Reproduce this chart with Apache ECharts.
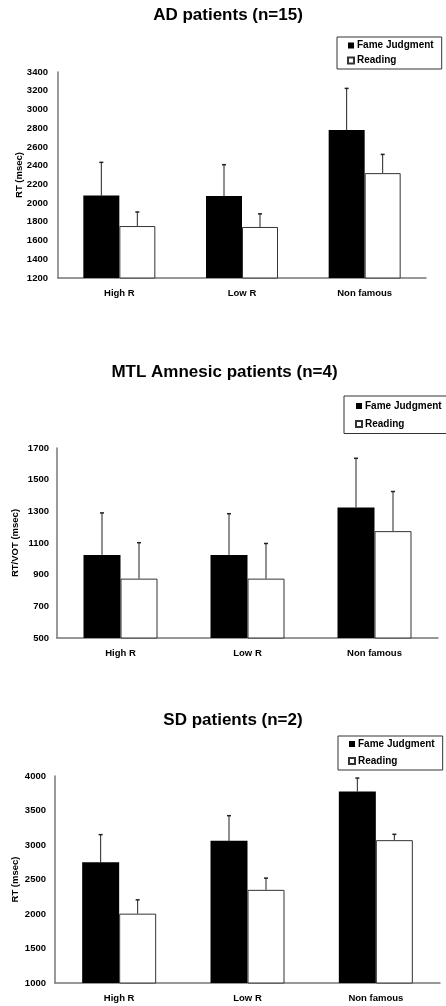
<!DOCTYPE html>
<html>
<head>
<meta charset="utf-8">
<script src="https://cdn.jsdelivr.net/npm/echarts@6/dist/echarts.min.js"></script>
<style>
html,body{margin:0;padding:0;background:#fff;}
#chart{width:446px;height:1006px;}
</style>
</head>
<body>
<div id="chart"></div>
<script>
// ---- data ----
const categories = ['High R', 'Low R', 'Non famous'];
const seriesNames = ['Fame Judgment', 'Reading'];

const adTitle = 'AD patients (n=15)';
const adYName = 'RT (msec)';
const adTicks = [1200, 1400, 1600, 1800, 2000, 2200, 2400, 2600, 2800, 3000, 3200, 3400];
const adFame = [2080, 2075, 2780];
const adFameErr = [2435, 2410, 3225];
const adRead = [1755, 1745, 2320];
const adReadErr = [1905, 1885, 2520];

const mtlTitle = 'MTL Amnesic patients (n=4)';
const mtlYName = 'RT/VOT (msec)';
const mtlTicks = [500, 700, 900, 1100, 1300, 1500, 1700];
const mtlFame = [1025, 1025, 1325];
const mtlFameErr = [1290, 1285, 1635];
const mtlRead = [875, 875, 1175];
const mtlReadErr = [1102, 1097, 1425];

const sdTitle = 'SD patients (n=2)';
const sdYName = 'RT (msec)';
const sdTicks = [1000, 1500, 2000, 2500, 3000, 3500, 4000];
const sdFame = [2750, 3060, 3775];
const sdFameErr = [3150, 3425, 3970];
const sdRead = [2005, 2350, 3070];
const sdReadErr = [2205, 2520, 3155];

// ---- styles ----
const FONT = '"Liberation Sans", Arial, Helvetica, sans-serif';
const panels = [
  {title: adTitle, yName: adYName, ticks: adTicks, fame: adFame, fameErr: adFameErr, read: adRead, readErr: adReadErr,
   grid: {left: 58, right: 20, top: 72, height: 206}, titleX: 228, titleTop: 6.5, nameGap: 34, labelMargin: 10,
   barW: 36, legend: {left: 337, top: 37, itemGap: 4, padding: [3, 8, 3, 10]}, step: 200},
  {title: mtlTitle, yName: mtlYName, ticks: mtlTicks, fame: mtlFame, fameErr: mtlFameErr, read: mtlRead, readErr: mtlReadErr,
   grid: {left: 57, right: 8, top: 448, height: 190}, titleX: 224.5, titleTop: 363.5, nameGap: 37, labelMargin: 8,
   barW: 37, legend: {left: 344, top: 396, itemGap: 7, padding: [4.5, 8, 4, 11]}, step: 100},
  {title: sdTitle, yName: sdYName, ticks: sdTicks, fame: sdFame, fameErr: sdFameErr, read: sdRead, readErr: sdReadErr,
   grid: {left: 55, right: 6, top: 776, height: 207}, titleX: 233, titleTop: 712, nameGap: 35, labelMargin: 9,
   barW: 37, legend: {left: 338, top: 736, itemGap: 6, padding: [2.5, 8, 3.5, 10]}, step: 500}
];

const titles = [], grids = [], xAxes = [], yAxes = [], legends = [], series = [];

function errRender(offset) {
  return function (params, api) {
    const base = api.coord([api.value(0), api.value(1)]);
    const top = api.coord([api.value(0), api.value(2)]);
    const x = base[0] + offset;
    const style = {stroke: '#222', lineWidth: 1};
    return {
      type: 'group',
      children: [
        {type: 'line', shape: {x1: x, y1: base[1], x2: x, y2: top[1]}, style: style},
        {type: 'line', shape: {x1: x - 2, y1: top[1], x2: x + 2, y2: top[1]}, style: {stroke: '#222', lineWidth: 1.5}}
      ]
    };
  };
}

panels.forEach((p, i) => {
  titles.push({
    text: p.title, left: p.titleX, top: p.titleTop, textAlign: 'center', padding: 0,
    textStyle: {fontFamily: FONT, fontSize: 17, fontWeight: 'bold', color: '#000', lineHeight: 17}
  });
  grids.push(Object.assign({containLabel: false}, p.grid));
  xAxes.push({
    type: 'category', gridIndex: i, data: categories,
    axisLine: {lineStyle: {color: '#777', width: 1.5}},
    axisTick: {show: false},
    axisLabel: {margin: 10, fontFamily: FONT, fontSize: 9.5, fontWeight: 'bold', color: '#000', interval: 0}
  });
  const ticks = p.ticks;
  yAxes.push({
    type: 'value', gridIndex: i,
    min: ticks[0], max: ticks[ticks.length - 1], interval: p.step,
    name: p.yName, nameLocation: 'middle', nameGap: p.nameGap, nameRotate: 90,
    nameMoveOverlap: false,
    nameTextStyle: {fontFamily: FONT, fontSize: 9.5, fontWeight: 'bold', color: '#000'},
    axisLine: {show: true, lineStyle: {color: '#777', width: 1.5}},
    axisTick: {show: false},
    splitLine: {show: false},
    axisLabel: {
      margin: p.labelMargin, fontFamily: FONT, fontSize: 9.5, fontWeight: 'bold', color: '#000',
      formatter: v => (ticks.indexOf(v) >= 0 ? String(v) : '')
    }
  });
  legends.push({
    data: seriesNames, orient: 'vertical', left: p.legend.left, top: p.legend.top,
    padding: p.legend.padding, itemGap: p.legend.itemGap,
    itemWidth: 6, itemHeight: 6, icon: 'rect',
    borderColor: '#333', borderWidth: 1, backgroundColor: '#fff',
    selectedMode: false,
    textStyle: {fontFamily: FONT, fontSize: 10, fontWeight: 'bold', color: '#000', lineHeight: 11, padding: [0, 0, 0, -2]}
  });
  series.push({
    name: seriesNames[0], type: 'bar', xAxisIndex: i, yAxisIndex: i,
    data: p.fame, barWidth: p.barW, barGap: '0%',
    itemStyle: {color: '#000', borderColor: '#000', borderWidth: 0},
    emphasis: {disabled: true}, animation: false
  });
  series.push({
    name: seriesNames[1], type: 'bar', xAxisIndex: i, yAxisIndex: i,
    data: p.read, barWidth: p.barW, barGap: '0%',
    itemStyle: {color: '#fff', borderColor: '#333', borderWidth: 1},
    emphasis: {disabled: true}, animation: false
  });
  series.push({
    name: 'errFame' + i, type: 'custom', xAxisIndex: i, yAxisIndex: i,
    data: p.fame.map((v, k) => [k, v, p.fameErr[k]]),
    encode: {x: 0, y: [1, 2]}, renderItem: errRender(-p.barW / 2), z: 1, animation: false, silent: true
  });
  series.push({
    name: 'errRead' + i, type: 'custom', xAxisIndex: i, yAxisIndex: i,
    data: p.read.map((v, k) => [k, v, p.readErr[k]]),
    encode: {x: 0, y: [1, 2]}, renderItem: errRender(p.barW / 2), z: 1, animation: false, silent: true
  });
});

const chart = echarts.init(document.getElementById('chart'), null, {renderer: 'canvas'});
chart.setOption({
  animation: false,
  backgroundColor: '#fff',
  title: titles, grid: grids, xAxis: xAxes, yAxis: yAxes, legend: legends, series: series
});
</script>
</body>
</html>
